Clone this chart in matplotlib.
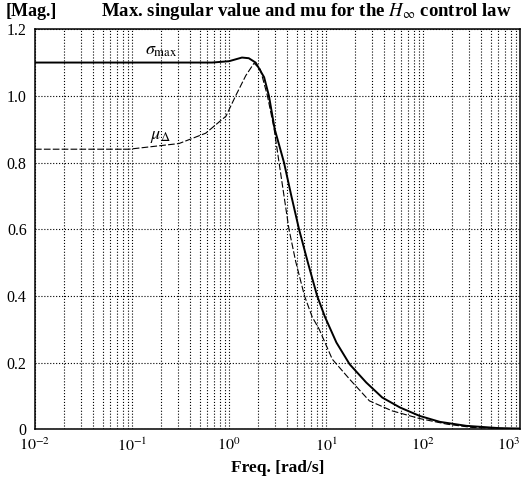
import matplotlib.pyplot as plt
from matplotlib.ticker import LogLocator, FixedLocator, NullFormatter

# values
freq_sigma = [0.01, 0.1, 0.3, 0.67, 1.0, 1.36, 1.6, 1.88, 2.3, 2.58, 2.96, 3.69, 4.39,
              5.27, 6.5, 8.1, 9.75, 12.8, 17.5, 26, 38, 58, 92, 149, 280, 620, 1000]
mag_sigma = [1.10, 1.10, 1.10, 1.10, 1.104, 1.115, 1.113, 1.10, 1.056, 1.0, 0.90, 0.80, 0.70,
             0.60, 0.50, 0.40, 0.337, 0.26, 0.195, 0.14, 0.095, 0.065, 0.04, 0.022, 0.01, 0.003, 0.002]

freq_mu = [0.01, 0.093, 0.305, 0.575, 0.93, 1.17, 1.49, 1.81, 2.1, 2.49, 2.91, 3.28,
           3.69, 4.15, 4.87, 6.0, 7.2, 8.5, 11.6, 17.5, 28, 48, 92, 177, 325, 1000]
mag_mu = [0.84, 0.84, 0.857, 0.888, 0.939, 1.0, 1.061, 1.098, 1.08, 1.0, 0.903, 0.80,
          0.70, 0.60, 0.503, 0.40, 0.337, 0.30, 0.21, 0.15, 0.085, 0.055, 0.032, 0.015, 0.005, 0.001]

x_ticks = [1e-2, 1e-1, 1e0, 1e1, 1e2, 1e3]
x_labels = [r'$10^{-2}$', r'$10^{-1}$', r'$10^{0}$', r'$10^{1}$', r'$10^{2}$', r'$10^{3}$']
y_ticks = [0, 0.2, 0.4, 0.6, 0.8, 1.0, 1.2]
y_labels = ["0", "0.2", "0.4", "0.6", "0.8", "1.0", "1.2"]

plt.rcParams['font.family'] = ['Liberation Serif', 'DejaVu Serif']
plt.rcParams['mathtext.fontset'] = 'stix'

fig = plt.figure(figsize=(5.24, 4.79), dpi=100)
ax = fig.add_axes([0.0668, 0.104, 0.9256, 0.835])

ax.plot(freq_sigma, mag_sigma, color='black', lw=1.4)
ax.plot(freq_mu, mag_mu, color='black', lw=0.8, linestyle=(0, (6, 2)))

ax.set_xscale('log')
ax.set_xlim(1e-2, 1e3)
ax.set_ylim(0, 1.2)
ax.set_xticks(x_ticks)
ax.set_xticklabels(x_labels)
ax.xaxis.set_minor_locator(LogLocator(base=10, subs=range(2, 10), numticks=100))
ax.xaxis.set_minor_formatter(NullFormatter())
ax.yaxis.set_major_locator(FixedLocator(y_ticks))
ax.set_yticklabels(y_labels)
# last label sits on the right edge, keep it inside the figure
ax.get_xticklabels()[-1].set_horizontalalignment('right')

ax.grid(True, which='both', axis='x', linestyle=':', color='black', lw=0.8)
ax.grid(True, which='major', axis='y', linestyle=':', color='black', lw=0.8)
ax.tick_params(which='both', length=0, labelsize=11.5, pad=6)
for s in ax.spines.values():
    s.set_linewidth(1.1)

ax.text(0.135, 1.125, r'$\sigma_{\mathrm{max}}$', fontsize=13)
ax.text(0.155, 0.872, r'$\mu_{\Delta}$', fontsize=13)

ax.set_xlabel('Freq. [rad/s]', fontsize=12.5, fontweight='bold', labelpad=4)
fig.text(0.01, 0.975, '[Mag.]', fontsize=13, fontweight='bold', va='center')
fig.text(0.585, 0.977, r'Max. singular value and mu for the $H_\infty$ control law',
         fontsize=13.5, fontweight='bold', ha='center', va='center')

fig.savefig('out.png', dpi=100)
